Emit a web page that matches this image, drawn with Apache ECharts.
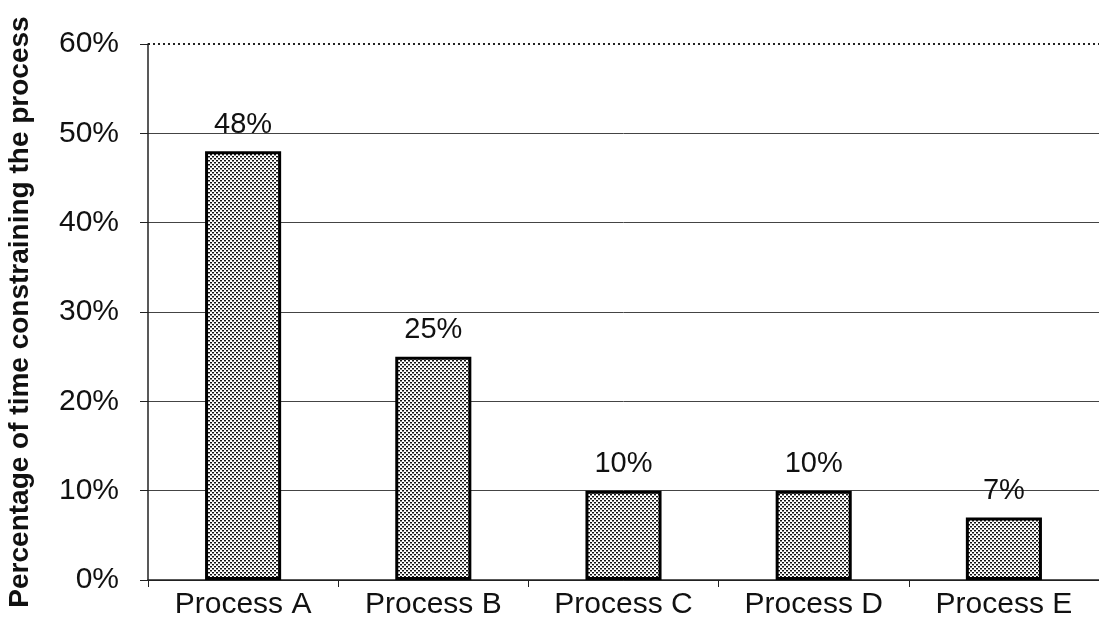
<!DOCTYPE html>
<html>
<head>
<meta charset="utf-8">
<script src="https://cdn.jsdelivr.net/npm/echarts@6/dist/echarts.min.js"></script>
<style>
  html, body { margin: 0; padding: 0; background: #fff; }
  #chart { width: 1099px; height: 636px; }
</style>
</head>
<body>
<div id="chart"></div>
<script>
var categories = ['Process A', 'Process B', 'Process C', 'Process D', 'Process E']
var shares = [48, 25, 10, 10, 7]
var yTicks = [0, 10, 20, 30, 40, 50, 60]

// dotted fill like the scanned halftone
var makePattern = function() {
  var c = document.createElement('canvas')
  c.width = 4
  c.height = 4
  var ctx = c.getContext('2d')
  ctx.fillStyle = '#fff'
  ctx.fillRect(0, 0, 4, 4)
  ctx.fillStyle = '#111'
  ctx.fillRect(0, 0, 2, 1)
  ctx.fillRect(2, 2, 2, 1)
  ctx.fillStyle = '#888'
  ctx.fillRect(0, 1, 2, 1)
  ctx.fillRect(2, 3, 2, 1)
  return c
}

var chart = echarts.init(document.getElementById('chart'))
var font = '"Liberation Sans", Arial, sans-serif'

var option = {
  animation: false,
  grid: { left: 148, right: 0, top: 44, bottom: 56, containLabel: false, outerBoundsMode: 'none' },
  xAxis: {
    type: 'category',
    data: categories,
    boundaryGap: true,
    axisLine: { lineStyle: { color: '#222', width: 1.5 } },
    axisTick: { show: true, length: 7, alignWithLabel: false, lineStyle: { color: '#222' } },
    axisLabel: { color: '#111', fontFamily: font, fontSize: 30, margin: 10 }
  },
  yAxis: {
    type: 'value',
    min: yTicks[0],
    max: yTicks[yTicks.length - 1],
    interval: 10,
    name: 'Percentage of time constraining the process',
    nameLocation: 'middle',
    nameGap: 114,
    nameTextStyle: { color: '#111', fontFamily: font, fontSize: 28, fontWeight: 'bold' },
    axisLine: { show: true, lineStyle: { color: '#222', width: 1.5 } },
    axisTick: { show: true, length: 8, lineStyle: { color: '#222' } },
    axisLabel: {
      color: '#111', fontFamily: font, fontSize: 30, margin: 29,
      formatter: function(v) { return v + '%' }
    },
    splitLine: {
      show: true,
      lineStyle: { color: ['#222', '#444', '#444', '#444', '#444', '#444', 'rgba(0,0,0,0)'], width: 1 }
    }
  },
  series: [
    {
      type: 'bar',
      data: shares,
      barWidth: '40%',
      itemStyle: {
        color: { image: makePattern(), repeat: 'repeat' },
        borderColor: '#000',
        borderWidth: 3
      },
      label: {
        show: true,
        position: 'top',
        distance: 12,
        color: '#111',
        fontFamily: font,
        fontSize: 29,
        formatter: function(p) { return p.value + '%' }
      },
      markLine: {
        silent: true,
        symbol: 'none',
        label: { show: false },
        lineStyle: { color: '#222', type: [2, 3], width: 2 },
        data: [{ yAxis: yTicks[yTicks.length - 1] }]
      }
    }
  ]
}
chart.setOption(option)
</script>
</body>
</html>
